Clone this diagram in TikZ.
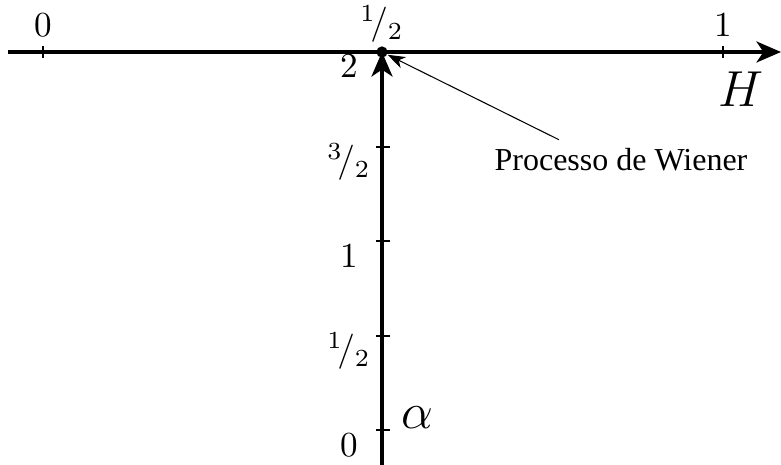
\documentclass[tikz,border=0pt]{standalone}
\usepackage{amsmath}
\usepackage{fontspec}
\newfontfamily\labelfont{Liberation Serif}
\usetikzlibrary{arrows.meta, positioning}

\newcommand{\meio}[2]{^{#1}\!/_{#2}}

\begin{document}
\begin{tikzpicture}[
  axis/.style={line width=0.9pt, -{Stealth[length=7pt, width=6pt, inset=2pt]}},
  tick/.style={line width=0.6pt},
  pointer/.style={line width=0.3pt, -{Stealth[length=5pt, width=3.5pt, inset=1.5pt]}},
  big/.style={font=\Large},
]
\useasboundingbox (0,0) rectangle (7.81,4.65);

% eixos
\coordinate (hstart) at (0.08,4.13);
\coordinate (hend) at (7.81,4.13);
\coordinate (vstart) at (3.82,0);
\node[circle, fill, inner sep=0pt, minimum size=3.2pt] (bm) at (3.82,4.13) {};

\draw[axis] (hstart) -- (hend);
\draw[axis] (vstart) -- (bm.center);

% marcas em H
\foreach \x/\lab in {0.43/0, 7.23/1} {
  \draw[tick] (\x,4.07) -- (\x,4.19);
  \node at (\x,4.40) {$\lab$};
}
\node at (3.82,4.41) {$\meio{1}{2}$};
\node[big] (hlab) at (7.41,3.76) {$H$};

% marcas em alpha
\foreach \y/\lab in {0.35/0, 1.29/{\meio{1}{2}}, 2.24/1, 3.18/{\meio{3}{2}}} {
  \draw[tick] (3.76,\y) -- (3.90,\y);
  \node at (3.49,\y-0.15) {$\lab$};
}
\node at (3.49,3.99) {$2$};
\node[big] (alab) at (4.17,0.47) {$\alpha$};

% processo de Wiener
\node[font=\labelfont\fontsize{9.1}{11}\selectfont] (wiener) at (6.21,3.05) {Processo de Wiener};
\draw[pointer] ([xshift=-0.62cm, yshift=-1pt]wiener.north) -- (bm);

\end{tikzpicture}
\end{document}
